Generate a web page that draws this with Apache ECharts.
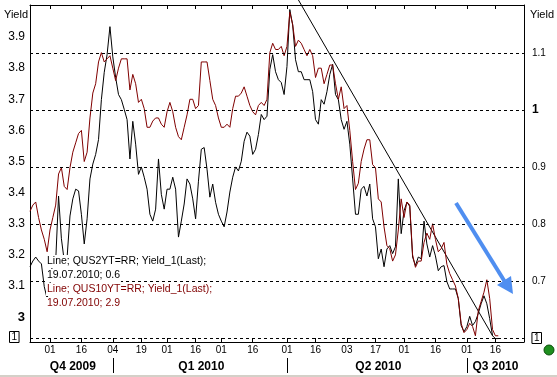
<!DOCTYPE html>
<html><head><meta charset="utf-8">
<script src="https://cdn.jsdelivr.net/npm/echarts@6/dist/echarts.min.js"></script>
<style>html,body{margin:0;padding:0;background:#fff}#c{width:557px;height:377px}</style>
</head><body><div id="c"></div>
<script>
// Trading-day calendar (US market holidays skipped)
const holidays = ['2009-11-26','2009-12-25','2010-01-01','2010-01-18','2010-02-15','2010-04-02','2010-05-31','2010-07-05'];
const firstDay = '2009-11-19';
const lastDay = '2010-07-30';
function buildDates(a, b) {
  const out = [];
  let d = new Date(a + 'T00:00:00Z');
  const end = new Date(b + 'T00:00:00Z');
  while (d <= end) {
    const w = d.getUTCDay();
    const s = d.toISOString().slice(0, 10);
    if (w !== 0 && w !== 6 && holidays.indexOf(s) < 0) out.push(s);
    d = new Date(d.getTime() + 86400000);
  }
  return out;
}
const categories = buildDates(firstDay, lastDay);

// Bottom tick labels (day of month shown)
const tickDates = ['2009-12-01','2009-12-16','2010-01-04','2010-01-19','2010-02-01','2010-02-16','2010-03-01','2010-03-16','2010-04-01','2010-04-16','2010-05-03','2010-05-17','2010-06-01','2010-06-16','2010-07-01','2010-07-16'];
// Quarter row
const quarterNames = ['Q4 2009','Q1 2010','Q2 2010','Q3 2010'];
const quarterLabelDates = ['2009-12-11','2010-02-18','2010-05-18','2010-07-16'];
const quarterBreakDates = ['2010-01-04','2010-04-01','2010-07-01'];

// QUS10YT=RR (left axis)
const us10y = [
3.34,3.36,3.37,3.32,3.28,3.25,3.21,3.28,3.32,3.36,
3.46,3.48,3.42,3.41,3.48,3.53,3.56,3.59,3.60,3.50,
3.53,3.64,3.72,3.75,3.82,3.85,3.82,3.83,3.84,3.80,
3.76,3.80,3.83,3.83,3.83,3.73,3.78,3.75,3.69,3.70,
3.67,3.61,3.61,3.63,3.64,3.64,3.62,3.61,3.66,3.69,
3.66,3.61,3.58,3.57,3.61,3.65,3.70,3.70,3.67,3.68,
3.82,3.82,3.82,3.76,3.70,3.68,3.64,3.61,3.61,3.62,
3.61,3.67,3.71,3.71,3.72,3.74,3.71,3.68,3.66,3.65,
3.68,3.69,3.68,3.70,3.85,3.88,3.86,3.86,3.87,3.84,
3.87,3.98,3.94,3.87,3.89,3.88,3.86,3.84,3.86,3.84,
3.77,3.80,3.80,3.75,3.78,3.81,3.81,3.75,3.70,3.74,
3.67,3.68,3.60,3.50,3.41,3.43,3.50,3.54,3.57,3.57,
3.49,3.48,3.38,3.37,3.29,3.23,3.22,3.18,3.20,3.28,
3.38,3.32,3.37,3.36,3.20,3.16,3.18,3.18,3.24,3.27,
3.25,3.30,3.25,3.21,3.22,3.24,3.17,3.14,3.12,3.10,
3.06,2.98,2.95,2.96,2.98,2.97,2.94,3.02,3.05,3.08,
3.12,3.06,2.96,2.94,2.94];

// QUS2YT=RR (right axis)
const us2y = [
0.725,0.735,0.742,0.735,0.730,0.690,0.669,0.695,0.735,0.735,
0.849,0.774,0.735,0.742,0.814,0.844,0.861,0.858,0.817,0.765,
0.809,0.879,0.905,0.922,0.948,1.018,1.066,1.097,1.146,1.093,
1.057,1.027,1.018,1.001,0.983,0.914,0.980,0.940,0.887,0.900,
0.882,0.861,0.817,0.805,0.826,0.914,0.852,0.826,0.861,0.861,
0.882,0.861,0.777,0.805,0.835,0.879,0.870,0.844,0.809,0.875,
0.931,0.934,0.896,0.847,0.870,0.838,0.817,0.805,0.795,0.821,
0.856,0.882,0.900,0.893,0.910,0.945,0.961,0.954,0.922,0.931,
0.957,0.992,0.983,0.989,1.071,1.097,1.067,1.053,1.048,1.027,
1.076,1.176,1.149,1.088,1.067,1.067,1.053,1.053,1.053,1.032,
0.983,0.975,1.018,1.010,1.032,1.062,1.080,1.027,1.018,0.983,
0.966,0.980,0.940,0.879,0.817,0.817,0.861,0.866,0.849,0.870,
0.809,0.795,0.739,0.756,0.725,0.756,0.762,0.748,0.760,0.879,
0.783,0.823,0.838,0.831,0.742,0.727,0.742,0.739,0.805,0.765,
0.742,0.762,0.744,0.718,0.725,0.727,0.699,0.686,0.686,0.686,
0.669,0.622,0.611,0.620,0.638,0.622,0.629,0.643,0.660,0.674,
0.660,0.634,0.604,0.599,0.599];

// Hand-drawn trend line (right axis)
const trendDates = ['2010-04-08','2010-07-15'];
const trendValues = [1.193, 0.604];

const leftTicks = [3.0,3.1,3.2,3.3,3.4,3.5,3.6,3.7,3.8,3.9];
const rightTicks = [0.6,0.7,0.8,0.9,1.0,1.1];

const legendLines = [
  {text:'Line; QUS2YT=RR; Yield_1(Last);', color:'#000'},
  {text:'19.07.2010; 0.6', color:'#000'},
  {text:'Line; QUS10YT=RR; Yield_1(Last);', color:'#800000'},
  {text:'19.07.2010; 2.9', color:'#800000'}
];

const FONT = '"Liberation Sans", Arial, sans-serif';
const chart = echarts.init(document.getElementById('c'), null, {renderer:'canvas'});

const tickSet = new Set(tickDates);
const qSet = new Set(quarterLabelDates);
const qbSet = new Set(quarterBreakDates);

const legendGraphics = legendLines.map((l, i) => ({
  type:'text', left: 46, top: 255 + i*14, z: 50,
  style:{text:l.text, fill:l.color, font:'10.5px ' + FONT, backgroundColor:'#fff', padding:[1,1,1,1]}
}));

const option = {
  animation:false,
  backgroundColor:'#fff',
  grid:{left:30, right:30, top:5, bottom:35, show:false},
  xAxis:[
    {type:'category', data:categories, boundaryGap:false, position:'bottom',
     axisLine:{show:true, lineStyle:{color:'#000', width:1}},
     axisTick:{show:true, inside:true, length:4, interval:(i,v)=>tickSet.has(v), lineStyle:{color:'#000'}},
     axisLabel:{show:true, interval:(i,v)=>tickSet.has(v), formatter:v=>v.slice(8,10), color:'#000', fontSize:10, fontFamily:FONT, margin:3},
     splitLine:{show:false}},
    {type:'category', data:categories, boundaryGap:false, position:'top',
     axisLine:{show:true, lineStyle:{color:'#000', width:1}},
     axisTick:{show:true, inside:true, length:4, interval:(i,v)=>tickSet.has(v), lineStyle:{color:'#000'}},
     axisLabel:{show:false}, splitLine:{show:false}},
    {type:'category', data:categories, boundaryGap:false, position:'bottom', offset:16,
     axisLine:{show:false},
     axisTick:{show:true, inside:false, length:15, interval:(i,v)=>qbSet.has(v), lineStyle:{color:'#000'}},
     axisLabel:{show:true, interval:(i,v)=>qSet.has(v), formatter:v=>quarterNames[quarterLabelDates.indexOf(v)] || '',
       color:'#000', fontSize:12, fontWeight:'bold', fontFamily:FONT, margin:3},
     splitLine:{show:false}}
  ],
  yAxis:[
    {type:'value', position:'left', min:2.92, max:4.003,
     name:'Yield', nameLocation:'end', nameGap:-15,
     nameTextStyle:{color:'#000', fontSize:11, fontFamily:FONT, align:'right', padding:[0,2,0,0]},
     axisLine:{show:true, lineStyle:{color:'#000', width:1}},
     axisTick:{show:false},
     axisLabel:{show:true, customValues:leftTicks, color:'#000', fontSize:12, fontFamily:FONT, margin:5,
       formatter:v=>Math.abs(v-3)<1e-6 ? '{b|3}' : v.toFixed(1),
       rich:{b:{fontSize:13, fontWeight:'bold', fontFamily:FONT, color:'#000'}}},
     splitLine:{show:false}},
    {type:'value', position:'right', min:0.593, max:1.184,
     name:'Yield', nameLocation:'end', nameGap:-15,
     nameTextStyle:{color:'#000', fontSize:11, fontFamily:FONT, align:'left', padding:[0,0,0,6]},
     axisLine:{show:true, lineStyle:{color:'#000', width:1}},
     axisTick:{show:false},
     axisLabel:{show:true, customValues:rightTicks, color:'#000', fontSize:10, fontFamily:FONT, margin:8,
       formatter:v=>Math.abs(v-0.6)<1e-6 ? '{box|1}' : (Math.abs(v-1)<1e-6 ? '{b|1}' : v.toFixed(1)),
       rich:{b:{fontSize:12, fontWeight:'bold', fontFamily:FONT, color:'#000'},
             box:{fontSize:10, fontFamily:FONT, color:'#000', borderColor:'#000', borderWidth:1, padding:[1,2,0,2]}}},
     splitLine:{show:false}}
  ],
  series:[
    {name:'QUS2YT=RR', type:'line', xAxisIndex:0, yAxisIndex:1, data:us2y, showSymbol:false, symbol:'none',
     lineStyle:{color:'#000', width:1}, z:3,
     markLine:{silent:true, symbol:'none', label:{show:false},
       lineStyle:{color:'#000', type:[3,3], width:1},
       data:rightTicks.map(v=>({yAxis:v}))}},
    {name:'QUS10YT=RR', type:'line', xAxisIndex:0, yAxisIndex:0, data:us10y, showSymbol:false, symbol:'none',
     lineStyle:{color:'#800000', width:1}, z:4},
    {name:'trend', type:'line', xAxisIndex:0, yAxisIndex:1, clip:false,
     data:trendDates.map((d,i)=>[d, trendValues[i]]), showSymbol:false, symbol:'none',
     lineStyle:{color:'#000', width:1}, z:2}
  ],
  graphic:[
    ...legendGraphics,
    {type:'text', left:9, top:331, style:{text:'1', fill:'#000', font:'10px ' + FONT, borderColor:'#000', borderWidth:1, padding:[1,2,0,2]}},
    {type:'polyline', shape:{points:[[456,203],[505,282]]}, style:{stroke:'#4f8ef0', lineWidth:4}, z:60},
    {type:'polygon', shape:{points:[[497,285],[511,276],[513,294]]}, style:{fill:'#4f8ef0'}, z:60},
    {type:'circle', shape:{cx:549, cy:350, r:5}, style:{fill:'#1f8f1f', stroke:'#0b4f0b', lineWidth:1}},
    {type:'rect', shape:{x:0, y:375, width:557, height:2}, style:{fill:'#d4d0c8'}}
  ]
};
chart.setOption(option);
</script>
</body></html>
